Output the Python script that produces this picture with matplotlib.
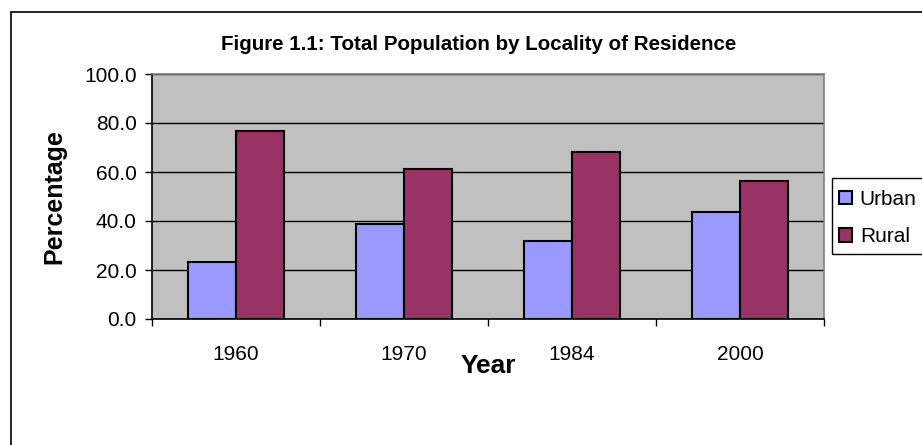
import matplotlib
matplotlib.use("Agg")
import matplotlib.pyplot as plt
import numpy as np
from matplotlib.patches import Rectangle

years = ["1960", "1970", "1984", "2000"]
urban = [23.1, 38.6, 32.0, 43.5]
rural = [76.9, 61.4, 68.0, 56.5]
series_names = ["Urban", "Rural"]
yticks = [0, 20, 40, 60, 80, 100]

plt.rcParams['font.family'] = ['Liberation Sans', 'DejaVu Sans']

W, H = 922, 445
fig = plt.figure(figsize=(W / 100, H / 100), dpi=100)
fig.patch.set_facecolor('white')

# outer chart frame (extends beyond the visible crop on right/bottom)
fig.patches.append(Rectangle((11 / W, -0.2), 1.2, (H - 12) / H + 0.2,
                             transform=fig.transFigure, fill=False,
                             edgecolor='black', linewidth=1.2, zorder=0))

L, R, T, B = 152, 824, 74, 319
ax = fig.add_axes([L / W, (H - B) / H, (R - L) / W, (B - T) / H])
ax.set_facecolor('#C0C0C0')

x = np.arange(len(years))
bw = 0.285
ax.bar(x - bw / 2, urban, bw, color='#9999FF', edgecolor='black', linewidth=1.5,
       label=series_names[0], zorder=3)
ax.bar(x + bw / 2, rural, bw, color='#993366', edgecolor='black', linewidth=1.5,
       label=series_names[1], zorder=3)

ax.set_xlim(-0.5, len(years) - 0.5)
ax.set_ylim(0, 100)
ax.set_yticks(yticks)
ax.set_yticklabels([f"{v:.1f}" for v in yticks], fontsize=15)
ax.tick_params(axis='y', direction='out', length=5, width=1, pad=6, colors='black')

ax.set_xticks(np.arange(len(years) + 1) - 0.5)
ax.set_xticklabels([])
ax.set_xticks(x, minor=True)
ax.set_xticklabels(years, minor=True, fontsize=15)
ax.tick_params(axis='x', which='major', direction='out', length=5, width=1)
ax.tick_params(axis='x', which='minor', length=0, pad=18.5)

ax.grid(axis='y', color='black', linewidth=1, zorder=1)
ax.set_axisbelow(True)

for s in ['top', 'right']:
    ax.spines[s].set_color('#808080')
    ax.spines[s].set_linewidth(1.2)
for s in ['left', 'bottom']:
    ax.spines[s].set_color('black')
    ax.spines[s].set_linewidth(1.2)

ax.set_xlabel('Year', fontsize=19, fontweight='bold')
ax.xaxis.set_label_coords(0.5, (B - 366) / (B - T))
ax.xaxis.label.set_va('center')

ax.set_ylabel('Percentage', fontsize=18, fontweight='bold')
ax.yaxis.set_label_coords((54 - L) / (R - L), 0.5)
ax.yaxis.label.set_va('center')

fig.text(479 / W, 1 - 44 / H, 'Figure 1.1: Total Population by Locality of Residence',
         fontsize=14.8, fontweight='bold', ha='center', va='center')

# legend frame
fig.patches.append(Rectangle((832 / W, 1 - 254 / H), 120 / W, 76 / H,
                             transform=fig.transFigure, facecolor='white',
                             edgecolor='black', linewidth=1, zorder=2))
leg = fig.legend(loc='center left', bbox_to_anchor=(839 / W, 1 - 218 / H),
                 frameon=False, fontsize=15, handlelength=0.6, handleheight=0.6,
                 handletextpad=0.4, labelspacing=0.9, borderpad=0, borderaxespad=0)
leg.set_zorder(5)

fig.savefig('out.png', dpi=100)
